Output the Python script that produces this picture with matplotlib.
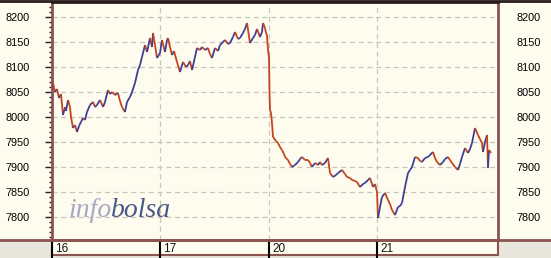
import numpy as np
import matplotlib.pyplot as plt
from matplotlib.collections import LineCollection
from matplotlib.patches import Rectangle
from matplotlib.lines import Line2D

# intraday sample index (session starts at 0, 108, 217, 325) and index level
t = [0, 1, 3, 5, 7, 9, 11, 13, 14, 16, 18, 19, 21, 23, 25, 27, 29, 31, 33, 35,
     38, 41, 43, 45, 48, 51, 53, 56, 58, 60, 63, 66, 68, 70, 73, 75, 78, 80, 83,
     86, 88, 90, 93, 95, 98, 100, 101, 103, 105, 108,
     110, 113, 115, 116, 118, 120, 122, 125, 128, 131, 134, 136, 138, 140, 143,
     145, 148, 150, 153, 156, 158, 160, 163, 166, 168, 171, 173, 176, 178, 181,
     183, 186, 188, 191, 193, 195, 198, 201, 203, 205, 208, 210, 211, 213, 214,
     215, 216, 217,
     217.5, 218, 219, 220, 221, 224, 226, 228, 230, 232, 233, 235, 236, 238, 240,
     243, 246, 248, 250, 253, 256, 258, 260, 263, 266, 268, 270, 273, 276, 278,
     281, 284, 286, 290, 293, 295, 298, 300, 303, 305, 308, 311, 313, 316, 318,
     321, 323, 325,
     326, 328, 330, 333, 336, 338, 340, 343, 346, 348, 350, 353, 356, 358, 360,
     363, 366, 368, 370, 373, 376, 378, 381, 383, 385, 388, 391, 393, 396, 398,
     400, 403, 406, 408, 410, 413, 416, 418, 420, 423, 426, 428, 430, 431, 433,
     435, 436, 437, 439]
price = [8060, 8068, 8050, 8056, 8038, 8046, 8004, 8020, 8012, 8034, 8020, 8000,
         7978, 7984, 7970, 7982, 7990, 7998, 7994, 8010, 8024, 8030, 8020, 8024,
         8034, 8020, 8030, 8054, 8046, 8050, 8044, 8048, 8032, 8020, 8010, 8030,
         8040, 8050, 8068, 8094, 8104, 8120, 8144, 8130, 8158, 8140, 8168, 8144,
         8118, 8128,
         8154, 8130, 8154, 8158, 8140, 8124, 8132, 8110, 8090, 8110, 8100, 8104,
         8112, 8094, 8120, 8138, 8134, 8140, 8134, 8138, 8126, 8118, 8138, 8132,
         8144, 8150, 8154, 8146, 8148, 8160, 8170, 8156, 8158, 8168, 8176, 8188,
         8148, 8158, 8164, 8176, 8160, 8170, 8188, 8178, 8168, 8164, 8134, 8120,
         8050, 8014, 8008, 7988, 7960, 7952, 7948, 7940, 7934, 7926, 7920, 7916,
         7914, 7906, 7900, 7904, 7910, 7916, 7920, 7914, 7914, 7908, 7900, 7908,
         7904, 7910, 7904, 7908, 7918, 7888, 7880, 7884, 7888, 7894, 7886, 7880,
         7878, 7874, 7872, 7870, 7860, 7866, 7868, 7874, 7878, 7860, 7866, 7850,
         7798, 7820, 7840, 7848, 7834, 7826, 7814, 7804, 7820, 7822, 7828, 7860,
         7888, 7894, 7900, 7920, 7918, 7912, 7910, 7918, 7920, 7924, 7930, 7918,
         7910, 7904, 7910, 7916, 7920, 7914, 7908, 7900, 7894, 7906, 7920, 7938,
         7928, 7936, 7948, 7978, 7964, 7956, 7948, 7930, 7950, 7964, 7898, 7934,
         7928]
day_starts = [0, 108, 217, 325]
day_labels = ['16', '17', '20', '21']
y_ticks = [7800, 7850, 7900, 7950, 8000, 8050, 8100, 8150, 8200]

cream = '#fefbef'
brown = '#8c5450'
gray = '#e8e6dc'

fig = plt.figure(figsize=(5.51, 2.58), dpi=100)
fig.patch.set_facecolor(gray)

W, H = 551, 258
def fx(px):
    return px / W
def fy(py):
    return 1 - py / H

# cream panels: top area and the date band under the plot
fig.add_artist(Rectangle((0, fy(240)), 1, fy(0) - fy(240), transform=fig.transFigure,
                         facecolor=cream, edgecolor='none', zorder=0))
fig.add_artist(Rectangle((fx(52), fy(255)), fx(498) - fx(52), fy(240) - fy(255),
                         transform=fig.transFigure, facecolor=cream,
                         edgecolor=brown, linewidth=1.5, zorder=0))
fig.add_artist(Line2D([0, 1], [fy(240), fy(240)], transform=fig.transFigure,
                      color=brown, lw=2, zorder=1))
fig.add_artist(Line2D([0, 1], [fy(1), fy(1)], transform=fig.transFigure,
                      color='#2a1c1c', lw=2, zorder=1))

ax = fig.add_axes([fx(52), fy(240), fx(498) - fx(52), fy(2) - fy(240)])
ax.set_facecolor(cream)
ax.set_xlim(0, 446)
ax.set_ylim(7754, 8230)

# grid
for y in y_ticks:
    ax.axhline(y, color='#c8c6bc', lw=0.9, dashes=(4, 3), zorder=1)
for d in day_starts[1:]:
    ax.axvline(d, color='#c8c6bc', lw=0.9, dashes=(4, 3), zorder=1)

# price line: rising segments blue, falling segments red
pts = np.column_stack([t, price])
segs = np.stack([pts[:-1], pts[1:]], axis=1)
diff = np.diff(price)
colors = ['#3f3f96' if d > 0 else '#c4441c' for d in diff]
ax.add_collection(LineCollection(segs, colors=colors, linewidths=1.3, zorder=3))

# watermark
info = ax.text(16, 7800, 'info', fontsize=20, family='Liberation Serif',
               style='italic', color='#a8a8c8', zorder=2)
ax.annotate('bolsa', xy=(1, 0), xycoords=info, fontsize=20,
            family='Liberation Serif', style='italic', color='#4a5888',
            va='bottom', ha='left', zorder=2)

# axes styling
for side in ['left', 'right', 'bottom']:
    ax.spines[side].set_color(brown)
    ax.spines[side].set_linewidth(2)
ax.spines['top'].set_color('#2a1c1c')
ax.spines['top'].set_linewidth(2)

ax.set_yticks(y_ticks)
ax.set_yticks(np.arange(7760, 8230, 10), minor=True)
ax.tick_params(axis='y', which='major', direction='out', length=5, width=1,
               left=True, right=True, labelleft=True, labelright=False,
               labelsize=7.8, pad=11, color='#202020')
ax.tick_params(axis='y', which='minor', direction='out', length=2, width=1,
               left=True, right=True, color='#202020')
for lab in ax.get_yticklabels():
    lab.set_family('Liberation Sans')
ax.set_xticks([])

# right-hand labels
ax2 = ax.twinx()
ax2.set_ylim(ax.get_ylim())
ax2.set_yticks(y_ticks)
ax2.tick_params(axis='y', which='major', length=0, labelsize=7.8, pad=13.5)
for lab in ax2.get_yticklabels():
    lab.set_family('Liberation Sans')
for s in ax2.spines.values():
    s.set_visible(False)

# date band labels
for d, lab in zip(day_starts, day_labels):
    ax.plot([d, d], [-0.005, -0.07], transform=ax.get_xaxis_transform(),
            color='black', lw=1.5, clip_on=False, zorder=5)
    ax.text(d + 3, -0.036, lab, transform=ax.get_xaxis_transform(), fontsize=8.5,
            family='Liberation Sans', va='center', ha='left', color='#111111')

fig.savefig('out.png', dpi=100, facecolor=fig.get_facecolor())
